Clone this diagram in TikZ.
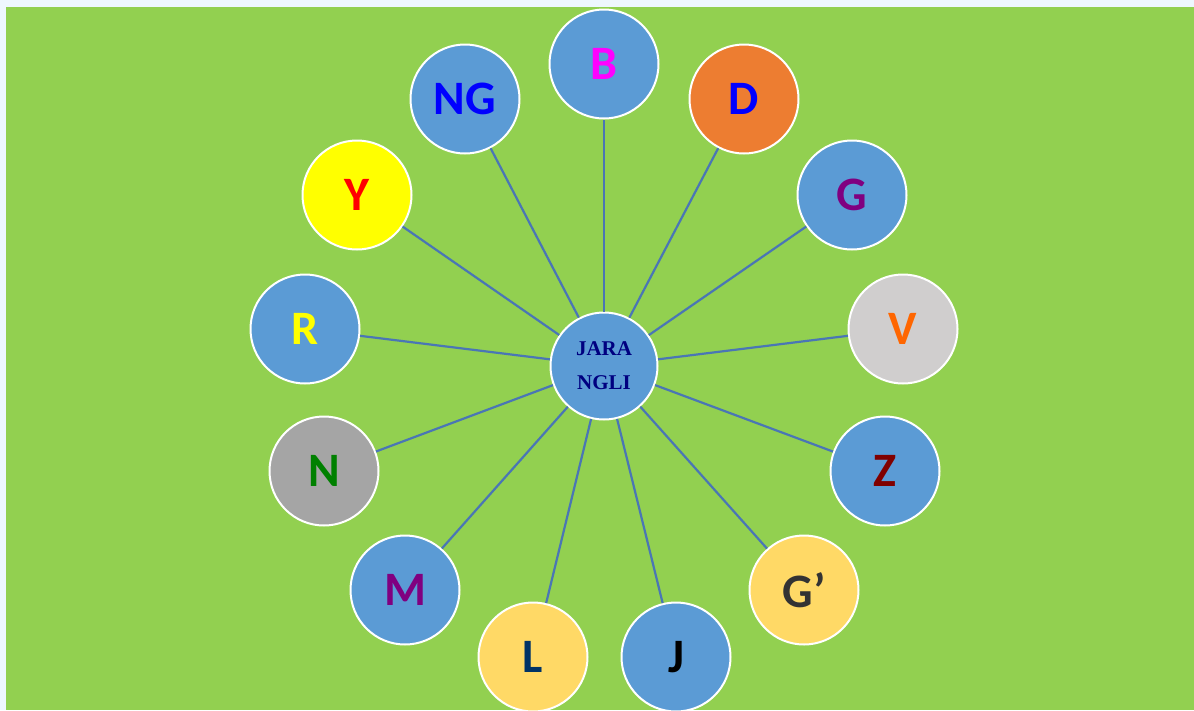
\documentclass[tikz,border=0pt]{standalone}
\usepackage{fontspec}
\setmainfont{Carlito}
\newfontfamily\serifbold{Liberation Serif}
\definecolor{bggreen}{HTML}{92D050}
\definecolor{edgebg}{HTML}{EEF7FE}
\definecolor{cblue}{HTML}{5B9BD5}
\definecolor{corange}{HTML}{ED7D31}
\definecolor{cyellow}{HTML}{FFFF00}
\definecolor{clgray}{HTML}{D0CECE}
\definecolor{cgray}{HTML}{A5A5A5}
\definecolor{cgold}{HTML}{FFD966}
\definecolor{spoke}{HTML}{4A76B5}
\definecolor{navytext}{HTML}{000080}
\definecolor{tmagenta}{HTML}{FF00FF}
\definecolor{tblue}{HTML}{0000FF}
\definecolor{tpurple}{HTML}{800080}
\definecolor{torange}{HTML}{FF6600}
\definecolor{tgreen}{HTML}{008000}
\definecolor{tmaroon}{HTML}{800000}
\definecolor{tdgray}{HTML}{333333}
\definecolor{tnavy}{HTML}{003366}
\definecolor{tred}{HTML}{FF0000}
\tikzset{
  letter/.style={circle, draw=white, line width=2pt, minimum size=109pt, inner sep=0pt,
    font=\fontsize{48}{52}\selectfont\bfseries},
  hub/.style={circle, draw=white, line width=2pt, minimum size=107pt, inner sep=0pt,
    font=\serifbold\fontsize{21}{34}\selectfont\bfseries, text=navytext, align=center, fill=cblue},
  spokeline/.style={draw=spoke, line width=2.2pt}
}
\begin{document}
\begin{tikzpicture}[x=1pt,y=-1pt]
\useasboundingbox (0,0) rectangle (1194,710);
\fill[edgebg] (0,0) rectangle (1194,710);
\fill[bggreen] (6,7) rectangle (1194,710);
\node[hub] (hub) at (604,366) {JARA\\NGLI};
\node[letter, fill=cblue, text=tmagenta] (b) at (604,64) {B};
\node[letter, fill=cblue, text=tblue] (ng) at (465,99) {NG};
\node[letter, fill=corange, text=tblue] (d) at (744,99) {D};
\node[letter, fill=cyellow, text=tred] (y) at (357,195) {Y};
\node[letter, fill=cblue, text=tpurple] (g) at (852,195) {G};
\node[letter, fill=cblue, text=cyellow] (r) at (305,329) {R};
\node[letter, fill=clgray, text=torange] (v) at (903,329) {V};
\node[letter, fill=cgray, text=tgreen] (n) at (324,471) {N};
\node[letter, fill=cblue, text=tmaroon] (z) at (885,471) {Z};
\node[letter, fill=cblue, text=tpurple] (m) at (405,590) {M};
\node[letter, fill=cgold, text=tdgray] (gp) at (804,590) {G’};
\node[letter, fill=cgold, text=tnavy] (l) at (533,657) {L};
\node[letter, fill=cblue, text=black] (j) at (676,657) {J};
\foreach \t in {b,ng,d,y,g,r,v,n,z,m,gp,l,j}{
  \draw[spokeline] (hub) -- (\t);
}
\end{tikzpicture}
\end{document}
